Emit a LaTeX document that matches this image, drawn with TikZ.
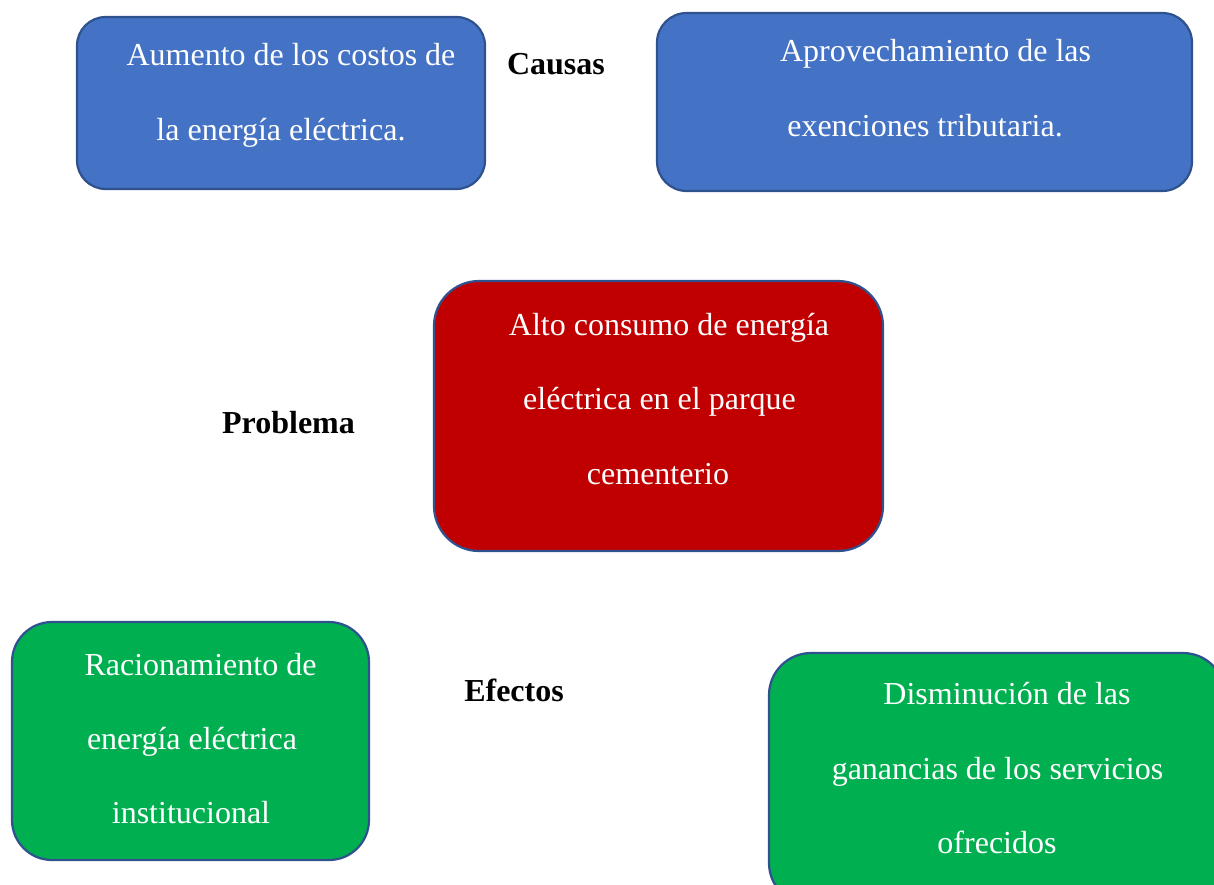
\documentclass[tikz,border=0pt]{standalone}
\usepackage{fontspec}
\setmainfont{Liberation Serif}
\usepackage{xcolor}
\usepackage{tikz}
\usetikzlibrary{positioning}
\usetikzlibrary{calc}
\definecolor{azulcaja}{HTML}{4472C4}
\definecolor{rojocaja}{HTML}{C00000}
\definecolor{verdecaja}{HTML}{00B050}
\definecolor{bordecaja}{HTML}{2F528F}
\tikzstyle{caja}=[rectangle,draw=bordecaja,line width=2.2pt,inner sep=0pt]
\tikzstyle{textocaja}=[anchor=base,inner sep=0pt,text=white,font=\fontsize{32}{38}\selectfont]
\tikzstyle{titulo}=[anchor=base,inner sep=0pt,text=black,font=\fontsize{32}{38}\selectfont\bfseries]

\begin{document}
\begin{tikzpicture}[x=1pt,y=-1pt]

  \useasboundingbox (0,0) rectangle (1214,884);

  % cajas
  \foreach \x/\y/\w/\h/\r/\name/\col in {281/103/408/172/28.7pt/C1/azulcaja, 924.5/102/535/178/29.7pt/C2/azulcaja,
        658.5/416/449/270/45pt/P/rojocaja, 190.5/741/357/238/40pt/E1/verdecaja, 997/779/456/252/42pt/E2/verdecaja}
          \node[caja, fill=\col, minimum width=\w, minimum height=\h, rounded corners=\r] (\name) at (\x,\y) {};

  % textos de las causas
  \foreach \x/\y/\name/\label in {291/65.5/C1a/Aumento de los costos de, 281/140.5/C1b/la energía eléctrica.,
        935.5/61.5/C2a/Aprovechamiento de las, 925/136.5/C2b/exenciones tributaria.}
          \node[textocaja] (\name) at (\x,\y) {\label};

  % texto del problema
  \foreach \x/\y/\name/\label in {669/335.5/Pa/Alto consumo de energía, 659.5/409.5/Pb/eléctrica en el parque, 658/484/Pc/cementerio}
          \node[textocaja] (\name) at (\x,\y) {\label};

  % textos de los efectos
  \foreach \x/\y/\name/\label in {200.5/675/E1a/Racionamiento de, 192/749/E1b/energía eléctrica, 191/823.5/E1c/institucional,
        1007/704.5/E2a/Disminución de las, 997.5/779.5/E2b/ganancias de los servicios, 997/853.5/E2c/ofrecidos}
          \node[textocaja] (\name) at (\x,\y) {\label};

  \node[titulo] (causas) at (556,74) {Causas};
  \node[titulo] (problema) at (288.5,433) {Problema};
  \node[titulo] (efectos) at (514,701) {Efectos};

\end{tikzpicture}
\end{document}
